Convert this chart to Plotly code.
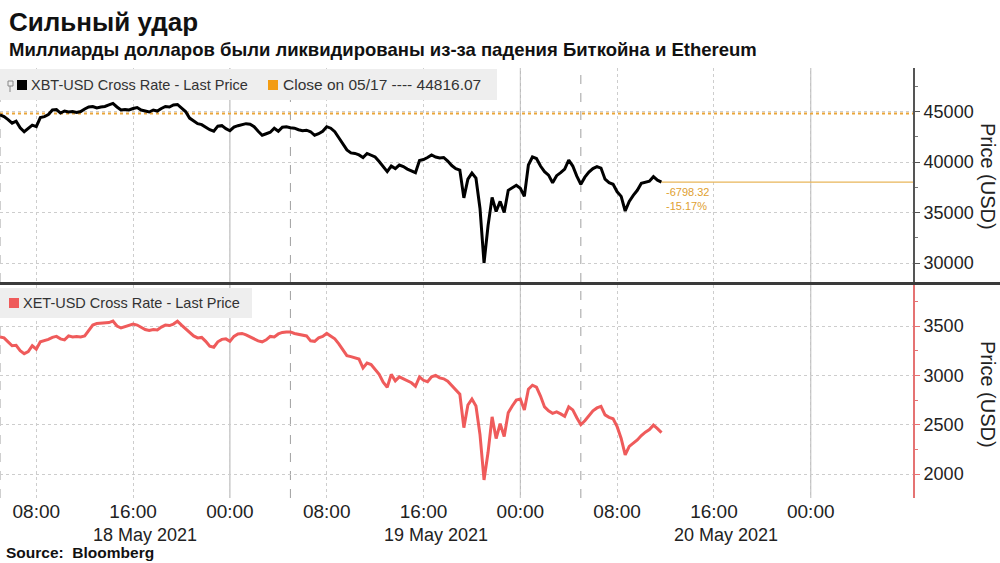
import pandas as pd
import plotly.graph_objects as go

# ---------------- data ----------------
start_time = "2021-05-18 05:00"
step = "20min"

btc = [44670, 44500, 44200, 43850, 44050, 43400, 43000, 43300, 43650, 43500,
       44400, 44500, 44700, 45150, 45200, 44850, 45050, 44950, 45000, 44900,
       45000, 45250, 45450, 45500, 45350, 45450, 45500, 45650, 45800, 45450,
       45150, 45200, 45150, 45300, 45400, 45150, 45050, 44950, 45150, 45050,
       45300, 45500, 45450, 45650, 45700, 45350, 45000, 44350, 44050, 43800,
       43700, 43450, 43200, 43050, 43550, 43600, 43300, 43100, 43450, 43600,
       43700, 43800, 43750, 43500, 43050, 42650, 42800, 42950, 43350, 43050,
       43450, 43500, 43400, 43350, 43200, 43100, 43150, 43000, 42650, 42800,
       43050, 43500, 43350, 43000, 42400, 41850, 41200, 40900, 40850, 40700,
       40450, 40850, 40700, 40500, 40050, 39500, 39050, 39600, 39350, 39700,
       39550, 39300, 39150, 38950, 40150, 40250, 40450, 40700, 40500, 40400,
       40450, 40100, 39650, 39350, 39200, 36450, 38300, 38900, 38400, 35400,
       30000, 33700, 36500, 35100, 36100, 35000, 37200, 37450, 37700, 37400,
       36600, 39700, 40500, 40350, 39600, 39050, 38700, 37950, 38650, 38950,
       39300, 40200, 39600, 38600, 37800, 38500, 39000, 39350, 39550, 39400,
       38300, 37950, 37800, 37050, 36600, 35150, 36100, 36700, 37200, 37900,
       38000, 38100, 38550, 38200, 38017.75]

eth = [3390, 3380, 3340, 3300, 3305, 3250, 3220, 3240, 3300, 3265,
       3340, 3350, 3365, 3385, 3395, 3370, 3360, 3400, 3390, 3395,
       3390, 3400, 3460, 3510, 3525, 3530, 3535, 3535, 3550, 3500,
       3480, 3495, 3510, 3520, 3510, 3490, 3465, 3455, 3465, 3460,
       3490, 3510, 3505, 3520, 3550, 3510, 3470, 3435, 3400, 3380,
       3385, 3345, 3295, 3285, 3340, 3365, 3370, 3345, 3395, 3420,
       3425, 3410, 3390, 3370, 3350, 3340, 3360, 3395, 3390, 3420,
       3435, 3440, 3440, 3425, 3415, 3405, 3400, 3350, 3345, 3380,
       3395, 3425, 3400, 3370, 3320, 3260, 3200, 3190, 3180, 3165,
       3075, 3125, 3110, 3060, 3010, 2930, 2880, 3010, 2945, 2985,
       2965, 2950, 2925, 2890, 2985, 2950, 2935, 2985, 3000, 2975,
       2965, 2940, 2900, 2850, 2810, 2470, 2700, 2760, 2690, 2400,
       1940, 2220, 2580, 2360, 2510, 2380, 2620, 2690, 2750, 2760,
       2650, 2860, 2900, 2880, 2790, 2680, 2640, 2615, 2630, 2610,
       2585, 2680, 2650, 2570, 2500, 2540, 2590, 2640, 2670, 2685,
       2600, 2575, 2560, 2480, 2360, 2195, 2280, 2310, 2345, 2390,
       2425, 2450, 2495, 2460, 2420]

close_0517 = 44816.07

tick_times = ["2021-05-18 08:00", "2021-05-18 16:00", "2021-05-19 00:00",
              "2021-05-19 08:00", "2021-05-19 16:00", "2021-05-20 00:00",
              "2021-05-20 08:00", "2021-05-20 16:00", "2021-05-21 00:00"]
tick_labels = ["08:00", "16:00", "00:00", "08:00", "16:00", "00:00",
               "08:00", "16:00", "00:00"]
day_label_times = ["2021-05-18 17:00", "2021-05-19 17:00", "2021-05-20 17:00"]
day_labels = ["18 May 2021", "19 May 2021", "20 May 2021"]
midnight_lines = ["2021-05-19 00:00", "2021-05-20 00:00", "2021-05-21 00:00"]
session_lines = ["2021-05-18 05:00", "2021-05-19 05:00", "2021-05-20 05:00"]
x_range = ["2021-05-18 05:00", "2021-05-21 08:27"]

btc_y_range = [28120, 49310]
eth_y_range = [1757, 3916]

# ---------------- figure ----------------
times = pd.date_range(start_time, periods=len(btc), freq=step)
times_eth = pd.date_range(start_time, periods=len(eth), freq=step)

W, H = 1000, 563
def px(x):
    return x / W
def py(y):
    return 1 - y / H

FONT = "Liberation Sans, Arial, sans-serif"
ORANGE = "#e9a53a"
RED = "#ef5b5b"

fig = go.Figure()
fig.add_trace(go.Scatter(x=times, y=btc, mode="lines", line=dict(color="#000000", width=3, shape="linear"),
                         xaxis="x", yaxis="y", name="XBT-USD Cross Rate - Last Price"))
fig.add_trace(go.Scatter(x=times_eth, y=eth, mode="lines", line=dict(color=RED, width=3, shape="linear"),
                         xaxis="x", yaxis="y2", name="XET-USD Cross Rate - Last Price"))

top_dom = [py(282), py(68)]
bot_dom = [py(498), py(285)]
plot_right = px(913)

fig.update_layout(
    width=W, height=H,
    margin=dict(l=0, r=0, t=0, b=0, pad=0),
    paper_bgcolor="white", plot_bgcolor="white",
    showlegend=False,
    font=dict(family=FONT, color="#222222"),
    xaxis=dict(domain=[0, plot_right], anchor="y2", type="date", range=x_range,
               tickvals=tick_times, ticktext=tick_labels, showline=False, zeroline=False,
               showgrid=True, gridcolor="#cdcdcd", griddash="dot", gridwidth=1,
               tickfont=dict(size=19, color="#222222"), ticks=""),
    yaxis=dict(domain=top_dom, anchor="x", side="right", range=btc_y_range,
               dtick=5000, tick0=0, tickformat="d", showgrid=True, gridcolor="#cdcdcd", griddash="dot",
               showline=True, linecolor="#555555", linewidth=2, ticks="outside", ticklen=5,
               tickcolor="#555555", tickfont=dict(size=18, color="#222222"), zeroline=False,
               minor=dict(dtick=2500, tick0=0, ticks="outside", ticklen=3, tickcolor="#777777", showgrid=False)),
    yaxis2=dict(domain=bot_dom, anchor="x", side="right", range=eth_y_range,
                dtick=500, tick0=0, tickformat="d", showgrid=True, gridcolor="#cdcdcd", griddash="dot",
                showline=True, linecolor="#e57373", linewidth=2, ticks="outside", ticklen=5,
                tickcolor="#e57373", tickfont=dict(size=18, color="#222222"), zeroline=False,
                minor=dict(dtick=250, tick0=0, ticks="outside", ticklen=3, tickcolor="#e57373", showgrid=False)),
)

shapes = []
for t in midnight_lines:
    shapes.append(dict(type="line", xref="x", yref="paper", x0=t, x1=t, y0=bot_dom[0], y1=top_dom[1],
                       line=dict(color="#b0b0b0", width=1), layer="below"))
for t in session_lines:
    shapes.append(dict(type="line", xref="x", yref="paper", x0=t, x1=t, y0=bot_dom[0], y1=top_dom[1],
                       line=dict(color="#a0a0a0", width=1, dash="dash"), layer="below"))
shapes.append(dict(type="line", xref="paper", yref="y", x0=0, x1=plot_right, y0=close_0517, y1=close_0517,
                   line=dict(color=ORANGE, width=2, dash="dot"), layer="below"))
shapes.append(dict(type="line", xref="x", yref="y", x0=times[-1], x1=x_range[1], y0=btc[-1], y1=btc[-1],
                   line=dict(color="#e8b65a", width=1.3)))
shapes.append(dict(type="line", xref="paper", yref="paper", x0=0, x1=1, y0=py(283.5), y1=py(283.5),
                   line=dict(color="#3a3a3a", width=3)))
shapes.append(dict(type="rect", xref="paper", yref="paper", x0=0, x1=px(497), y0=py(100), y1=py(69),
                   fillcolor="#eeeeee", line=dict(width=0), layer="above"))
shapes.append(dict(type="rect", xref="paper", yref="paper", x0=0, x1=px(252), y0=py(318), y1=py(288),
                   fillcolor="#eeeeee", line=dict(width=0), layer="above"))
shapes.append(dict(type="rect", xref="paper", yref="paper", x0=px(17), x1=px(27), y0=py(90), y1=py(80),
                   fillcolor="#000000", line=dict(width=0), layer="above"))
shapes.append(dict(type="rect", xref="paper", yref="paper", x0=px(268), x1=px(278), y0=py(90), y1=py(80),
                   fillcolor="#f39c12", line=dict(width=0), layer="above"))
shapes.append(dict(type="rect", xref="paper", yref="paper", x0=px(9), x1=px(19), y0=py(308), y1=py(298),
                   fillcolor=RED, line=dict(width=0), layer="above"))
shapes.append(dict(type="rect", xref="paper", yref="paper", x0=px(8), x1=px(13), y0=py(86), y1=py(81),
                   fillcolor="rgba(0,0,0,0)", line=dict(color="#888888", width=1), layer="above"))
shapes.append(dict(type="line", xref="paper", yref="paper", x0=px(10), x1=px(10), y0=py(92), y1=py(86),
                   line=dict(color="#888888", width=1), layer="above"))
fig.update_layout(shapes=shapes)

ann = []
ann.append(dict(text="<b>Сильный удар</b>", x=px(7), y=py(22), xref="paper", yref="paper",
                xanchor="left", yanchor="middle", showarrow=False, font=dict(size=26, color="#111111")))
ann.append(dict(text="<b>Миллиарды долларов были ликвидированы из-за падения Биткойна и Ethereum</b>",
                x=px(7), y=py(49), xref="paper", yref="paper", xanchor="left", yanchor="middle",
                showarrow=False, font=dict(size=18.5, color="#111111")))
ann.append(dict(text="<b>Source:  Bloomberg</b>", x=px(4), y=py(552), xref="paper", yref="paper",
                xanchor="left", yanchor="middle", showarrow=False, font=dict(size=15.5, color="#111111")))
ann.append(dict(text="XBT-USD Cross Rate - Last Price", x=px(29), y=py(85), xref="paper", yref="paper",
                xanchor="left", yanchor="middle", showarrow=False, font=dict(size=14.5, color="#333333")))
ann.append(dict(text=f"Close on 05/17 ---- {close_0517:.2f}", x=px(281), y=py(85), xref="paper", yref="paper",
                xanchor="left", yanchor="middle", showarrow=False, font=dict(size=15.5, color="#333333")))
ann.append(dict(text="XET-USD Cross Rate - Last Price", x=px(21), y=py(303), xref="paper", yref="paper",
                xanchor="left", yanchor="middle", showarrow=False, font=dict(size=14.5, color="#333333")))
chg = btc[-1] - close_0517
pct = chg / close_0517 * 100
ann.append(dict(text=f"{chg:.2f}<br>{pct:.2f}%", x=times[-1], y=btc[-1], xref="x", yref="y",
                xanchor="left", yanchor="top", xshift=2, yshift=-2, showarrow=False, align="left",
                font=dict(size=11, color="#e0a030")))
for t, lab in zip(day_label_times, day_labels):
    ann.append(dict(text=lab, x=t, y=py(535), xref="x", yref="paper", xanchor="center", yanchor="middle",
                    showarrow=False, font=dict(size=18, color="#222222")))
ann.append(dict(text="Price (USD)", x=px(988), y=py(176), xref="paper", yref="paper", textangle=90,
                xanchor="center", yanchor="middle", showarrow=False, font=dict(size=20, color="#222222")))
ann.append(dict(text="Price (USD)", x=px(988), y=py(394), xref="paper", yref="paper", textangle=90,
                xanchor="center", yanchor="middle", showarrow=False, font=dict(size=20, color="#222222")))
fig.update_layout(annotations=ann)

fig.write_html("out.html", config={"displayModeBar": False},
               post_script="document.body.style.margin='0px';document.body.style.overflow='hidden';")
